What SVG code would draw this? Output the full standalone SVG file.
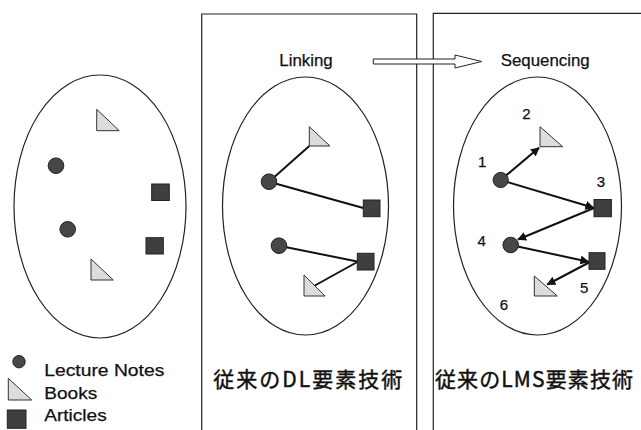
<svg xmlns="http://www.w3.org/2000/svg" width="641" height="430" viewBox="0 0 641 430">
<defs>
<style>
.frame{fill:none;stroke:#222;stroke-width:1.2}
.ell{fill:none;stroke:#222;stroke-width:1.2}
.lec{fill:#474747;stroke:#222;stroke-width:1}
.book{fill:#dcdcdc;stroke:#333;stroke-width:1}
.art{fill:#3f3f3f;stroke:#222;stroke-width:1}
.link{stroke:#111;stroke-width:2;fill:none}
.seq{stroke:#111;stroke-width:2;fill:none;marker-end:url(#ah)}
.lbl{font-family:"Liberation Sans",Arial,sans-serif;font-size:17px;fill:#111;stroke:#111;stroke-width:0.25}
.num{font-family:"Liberation Sans",Arial,sans-serif;font-size:15px;fill:#111;stroke:#111;stroke-width:0.25;text-anchor:middle}
.jp{font-family:"Noto Sans CJK JP","Noto Sans CJK SC",sans-serif;font-size:21px;fill:#111;stroke:#111;stroke-width:0.45}
</style>
<marker id="ah" viewBox="0 0 10 10" refX="9" refY="5" markerWidth="4.5" markerHeight="4.5" orient="auto" markerUnits="strokeWidth">
<path d="M0,0 L10,5 L0,10 z" fill="#111"/>
</marker>
</defs>
<rect width="641" height="430" fill="#fff"/>

<g id="frames">
<path class="frame" d="M201.7,430 V14 H416.7 V430"/>
<path class="frame" d="M433.3,430 V13.3 H641"/>
</g>

<g id="ellipses">
<ellipse class="ell" cx="100" cy="206.5" rx="86" ry="131.5"/>
<ellipse class="ell" cx="305.5" cy="206" rx="83" ry="129"/>
<ellipse class="ell" cx="537.5" cy="206" rx="84" ry="129"/>
</g>

<g id="transition-arrow">
<path d="M373.3,59 H455 V55 L481.7,61.5 L455,68 V64 H373.3 Z" fill="#fff" stroke="#222" stroke-width="1"/>
</g>

<g id="titles">
<text class="lbl" x="279.3" y="66" textLength="53.4" lengthAdjust="spacingAndGlyphs">Linking</text>
<text class="lbl" x="500.7" y="66" textLength="89" lengthAdjust="spacingAndGlyphs">Sequencing</text>
<text class="jp" x="213.3" y="387" textLength="189" lengthAdjust="spacing">従来のDL要素技術</text>
<text class="jp" x="435" y="387" textLength="198" lengthAdjust="spacing">従来のLMS要素技術</text>
</g>

<g id="connectors">
<line class="link" x1="269" y1="181.7" x2="309.3" y2="146"/>
<line class="link" x1="269" y1="181.7" x2="363.3" y2="208"/>
<line class="link" x1="279" y1="245.7" x2="357.3" y2="261.5"/>
<line class="link" x1="357.3" y1="262" x2="314" y2="286"/>
<line class="seq" x1="500.7" y1="180" x2="539" y2="147.8"/>
<line class="seq" x1="500.7" y1="180" x2="593.5" y2="207.7"/>
<line class="seq" x1="594" y1="208" x2="518" y2="239.5"/>
<line class="seq" x1="510.7" y1="245" x2="588.5" y2="261.7"/>
<line class="seq" x1="589" y1="262.5" x2="547.3" y2="284.5"/>
</g>

<g id="pool">
<g id="p-book1"><polygon class="book" points="96.7,109.3 96.7,130.7 119.3,130.7"/></g>
<g id="p-lec1"><circle class="lec" cx="56" cy="165.7" r="7.8"/></g>
<g id="p-art1"><rect class="art" x="151.7" y="184" width="17.6" height="16.5"/></g>
<g id="p-lec2"><circle class="lec" cx="67.7" cy="229.3" r="7.8"/></g>
<g id="p-art2"><rect class="art" x="146" y="237.7" width="17.3" height="16.3"/></g>
<g id="p-book2"><polygon class="book" points="91,259 91,280 113.3,280"/></g>
</g>

<g id="linking">
<g id="l-book1"><polygon class="book" points="309.3,126.7 309.3,146 330,146"/></g>
<g id="l-lec1"><circle class="lec" cx="269" cy="181.7" r="7.8"/></g>
<g id="l-art1"><rect class="art" x="363.3" y="200" width="16.7" height="16.7"/></g>
<g id="l-lec2"><circle class="lec" cx="279" cy="245.7" r="7.8"/></g>
<g id="l-art2"><rect class="art" x="357.3" y="253.3" width="16.7" height="16.7"/></g>
<g id="l-book2"><polygon class="book" points="304,275 304,296 325,296"/></g>
</g>

<g id="sequencing">
<g id="s-book1"><polygon class="book" points="540,126.7 540,146.7 562.7,146.7"/><text class="num" x="526.3" y="119.3">2</text></g>
<g id="s-lec1"><circle class="lec" cx="500.7" cy="180" r="7.6"/><text class="num" x="482.2" y="166.7">1</text></g>
<g id="s-art1"><rect class="art" x="594" y="199.5" width="17.4" height="17.2"/><text class="num" x="601" y="187.3">3</text></g>
<g id="s-lec2"><circle class="lec" cx="510.7" cy="245" r="7.8"/><text class="num" x="481.7" y="246">4</text></g>
<g id="s-art2"><rect class="art" x="589" y="252.7" width="16" height="16.6"/><text class="num" x="584.2" y="293.3">5</text></g>
<g id="s-book2"><polygon class="book" points="534.3,276 534.3,296 557.3,296"/><text class="num" x="503.8" y="310">6</text></g>
</g>

<g id="legend">
<g id="lg-lec"><circle class="lec" cx="19" cy="361.7" r="6.2"/><text class="lbl" x="44.3" y="375.7" textLength="120" lengthAdjust="spacingAndGlyphs">Lecture Notes</text></g>
<g id="lg-book"><polygon class="book" points="8.3,378.3 8.3,400 31.7,400"/><text class="lbl" x="44.3" y="399" textLength="53" lengthAdjust="spacingAndGlyphs">Books</text></g>
<g id="lg-art"><rect class="art" x="7.3" y="410" width="18.7" height="18.3"/><text class="lbl" x="44.3" y="421" textLength="62.4" lengthAdjust="spacingAndGlyphs">Articles</text></g>
</g>
</svg>
